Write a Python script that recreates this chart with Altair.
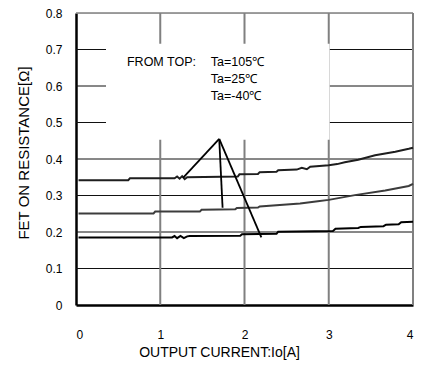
import altair as alt
import pandas as pd

# ---- data ----
x_105 = [0.03, 0.62, 0.64, 1.17, 1.20, 1.23, 1.26, 1.29, 1.32, 1.92, 1.94, 2.16, 2.18, 2.38, 2.40,
         2.62, 2.68, 2.74, 2.78, 3.00, 3.10, 3.19, 3.35, 3.55, 3.79, 3.95, 4.00]
y_105 = [0.342, 0.342, 0.347, 0.347, 0.352, 0.346, 0.353, 0.345, 0.350, 0.352, 0.358, 0.359, 0.364, 0.365, 0.369,
         0.371, 0.376, 0.372, 0.379, 0.383, 0.386, 0.391, 0.398, 0.410, 0.420, 0.428, 0.431]

x_25 = [0.03, 0.92, 0.94, 1.47, 1.49, 1.89, 1.91, 2.16, 2.18, 2.66, 2.87, 3.00, 3.31, 3.67, 3.95, 4.00]
y_25 = [0.251, 0.251, 0.256, 0.256, 0.261, 0.262, 0.266, 0.267, 0.270, 0.278, 0.284, 0.288, 0.301, 0.314, 0.326, 0.332]

x_m40 = [0.03, 1.14, 1.17, 1.20, 1.24, 1.28, 1.32, 1.35, 1.95, 1.97, 2.38, 2.40, 3.05, 3.08, 3.35, 3.38,
         3.65, 3.68, 3.83, 3.86, 4.00]
y_m40 = [0.185, 0.185, 0.189, 0.183, 0.189, 0.183, 0.188, 0.189, 0.190, 0.194, 0.195, 0.201, 0.203, 0.209, 0.211, 0.214,
         0.216, 0.220, 0.221, 0.227, 0.228]

series_names = ["Ta=105℃", "Ta=25℃", "Ta=-40℃"]
series_colors = ["#1e1e1e", "#3c3c3c", "#000000"]

x_ticks = [0, 1, 2, 3, 4]
y_ticks = [0, 0.1, 0.2, 0.3, 0.4, 0.5, 0.6, 0.7, 0.8]
h_grid = [0.1, 0.2, 0.3, 0.4, 0.5, 0.6, 0.7]
v_grid = [1, 2, 3, 4]

# pointer lines: apex -> each curve
apex = (1.70, 0.455)
pointer_ends_x = [1.27, 1.74, 2.20]
pointer_ends_y = [0.348, 0.2666, 0.185]

# annotation box (hides the grid behind the text)
box = dict(x=0.356, x2=3.01, y=0.453, y2=0.716)

ann_labels = ["FROM TOP:", "Ta=105℃", "Ta=25℃", "Ta=-40℃"]
ann_x = [0.605, 1.60, 1.60, 1.60]
ann_y = [0.6536, 0.6536, 0.6075, 0.5614]

# ---- tables ----
rows = []
for name, xs, ys in zip(series_names, [x_105, x_25, x_m40], [y_105, y_25, y_m40]):
    for i, (a, b) in enumerate(zip(xs, ys)):
        rows.append({"series": name, "x": a, "y": b, "order": i})
curves = pd.DataFrame(rows)

pointers = pd.DataFrame({"x": [apex[0]] * 3, "y": [apex[1]] * 3,
                         "x2": pointer_ends_x, "y2": pointer_ends_y})
ann = pd.DataFrame({"label": ann_labels, "x": ann_x, "y": ann_y})

W, H = 337, 292
FONT = "Liberation Sans"

xscale = alt.Scale(domain=[0, 4], nice=False, zero=False)
yscale = alt.Scale(domain=[0, 0.8], nice=False)

xaxis = alt.Axis(values=x_ticks, format="d", grid=False, ticks=False, domainColor="#000",
                 domainWidth=2.5, labelFont=FONT, labelFontSize=12, labelColor="#000",
                 labelPadding=24, title="OUTPUT CURRENT:Io[A]", titleFont=FONT,
                 titleFontSize=14, titleFontWeight="normal", titleColor="#000",
                 titleX=143, titleY=47, titleAlign="center", titleBaseline="middle",
                 titleAnchor="start")
yaxis = alt.Axis(values=y_ticks, labelExpr="datum.value == 0 ? '0' : format(datum.value, '.1f')",
                 grid=False, ticks=False, domainColor="#000", domainWidth=2.5,
                 labelFont=FONT, labelFontSize=12, labelColor="#000", labelPadding=14,
                 title="FET ON RESISTANCE[Ω]", titleFont=FONT, titleFontSize=15,
                 titleFontWeight="normal", titleColor="#000", titleAngle=270,
                 titleX=-53, titleY=139.5, titleAlign="center", titleBaseline="middle",
                 titleAnchor="start")


def X(field="x"):
    return alt.X(f"{field}:Q", scale=xscale, axis=xaxis)


def Y(field="y"):
    return alt.Y(f"{field}:Q", scale=yscale, axis=yaxis)


hgrid = alt.Chart(pd.DataFrame({"y": h_grid})).mark_rule(color="#111", strokeWidth=1).encode(
    y=Y(), x=alt.value(0), x2=alt.value(W))
vgrid = alt.Chart(pd.DataFrame({"x": v_grid})).mark_rule(color="#808080", strokeWidth=2).encode(
    x=X(), y=alt.value(0), y2=alt.value(H))
topline = alt.Chart(pd.DataFrame({"y": [0.8]})).mark_rule(color="#808080", strokeWidth=1.5).encode(
    y=Y(), x=alt.value(0), x2=alt.value(W))

boxl = alt.Chart(pd.DataFrame([box])).mark_rect(color="white").encode(
    x=X(), x2="x2:Q", y=Y(), y2="y2:Q")

lines = alt.Chart(curves).mark_line(strokeWidth=2).encode(
    x=X(), y=Y(), order="order:Q",
    color=alt.Color("series:N", scale=alt.Scale(domain=series_names, range=series_colors), legend=None))

ptr = alt.Chart(pointers).mark_rule(color="#000", strokeWidth=1.8).encode(
    x=X(), y=Y(), x2="x2:Q", y2="y2:Q")

text = alt.Chart(ann).mark_text(align="left", baseline="alphabetic", font=FONT, fontSize=12.5,
                                color="#000").encode(x=X(), y=Y(), text="label:N")

chart = alt.layer(hgrid, vgrid, topline, boxl, lines, ptr, text).properties(
    width=W, height=H,
    autosize=alt.AutoSizeParams(type="none"),
    padding={"left": 68, "top": 5, "right": 5, "bottom": 55},
).configure_view(stroke=None).configure(background="white")

chart.save("out.html", embed_options={"renderer": "svg", "actions": False})
